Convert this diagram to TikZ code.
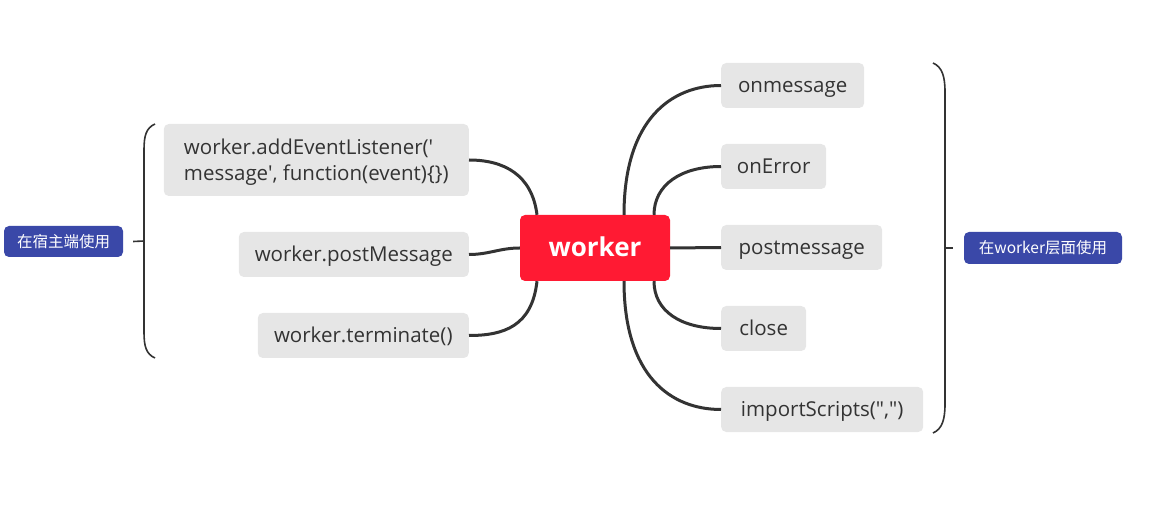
\documentclass[tikz,border=0pt]{standalone}
\usepackage{fontspec}
\newfontfamily\leaffont{Open Sans}
\newfontfamily\cjk{Noto Sans CJK SC}
\definecolor{hubred}{HTML}{FF1A33}
\definecolor{leafgray}{HTML}{E6E6E6}
\definecolor{tagblue}{HTML}{3A48A8}
\definecolor{linegray}{HTML}{333333}
\begin{document}
\begin{tikzpicture}[x=1pt,y=-1pt,
  hub/.style={fill=hubred,rounded corners=5pt,text=white,font=\leaffont\bfseries\fontsize{26}{30}\selectfont,minimum width=150pt,minimum height=66pt,inner sep=0pt,text height=22pt,text depth=4pt},
  leaf/.style={fill=leafgray,rounded corners=5pt,text=linegray,font=\leaffont\fontsize{20.5}{26}\selectfont,minimum height=45pt,inner sep=0pt,text height=19pt,text depth=4pt},
  leafr/.style={leaf,anchor=west},
  leafl/.style={leaf,anchor=east},
  tag/.style={fill=tagblue,rounded corners=5pt,text=white,font=\cjk\fontsize{15.5}{18}\selectfont,inner sep=0pt},
  conn/.style={draw=linegray,line width=3pt},
  brace/.style={draw=linegray,line width=1.6pt}]
\useasboundingbox (0,0) rectangle (1151,518);
\node[hub] (w) at (595,248) {worker};
% left leaves
\node[leafl,minimum width=305pt,minimum height=72pt,align=left,text height=46pt,text depth=4pt] (ael) at (469,160) {worker.addEventListener('\\message', function(event)\{\})};
\node[leafl,minimum width=230pt] (pm) at (469,254.5) {worker.postMessage};
\node[leafl,minimum width=211pt] (term) at (469,335.5) {worker.terminate()};
% right leaves
\node[leafr,minimum width=143pt] (om) at (721,85.5) {onmessage};
\node[leafr,minimum width=105pt] (oe) at (721,166.5) {onError};
\node[leafr,minimum width=161pt] (pms) at (721,247.5) {postmessage};
\node[leafr,minimum width=85pt] (cl) at (721,328.5) {close};
\node[leafr,minimum width=202pt] (imp) at (721,409.5) {importScripts(",")};
% tags
\node[tag,minimum width=119pt,minimum height=31pt] (lt) at (63.5,241.5) {在宿主端使用};
\node[tag,minimum width=158pt,minimum height=32pt] (rt) at (1043,248) {在worker层面使用};
% connectors right
\draw[conn] ([xshift=29pt]w.north) .. controls +(0,-95) and +(-50,0) .. (om.west);
\draw[conn] ([xshift=59pt]w.north) .. controls +(0,-30) and +(-40,0) .. (oe.west);
\draw[conn] (w.east) -- (pms.west);
\draw[conn] ([xshift=59pt]w.south) .. controls +(0,30) and +(-40,0) .. (cl.west);
\draw[conn] ([xshift=29pt]w.south) .. controls +(0,95) and +(-50,0) .. (imp.west);
% connectors left
\draw[conn] ([xshift=-58pt]w.north) .. controls +(-5,-40) and +(35,0) .. (ael.east);
\draw[conn] (w.west) .. controls +(-20,0) and +(20,0) .. (pm.east);
\draw[conn] ([xshift=-58pt]w.south) .. controls +(-5,45) and +(35,0) .. (term.east);
% left brace
\coordinate (lbt) at (155,124);
\coordinate (lbb) at (155,358);
\coordinate (lbm) at (144,241);
\draw[brace] (lbt) .. controls (146,128) and (144,136) .. (144,150) -- (144,332) .. controls (144,346) and (146,354) .. (lbb);
\draw[brace] ([xshift=10pt]lt.east) -- (lbm);
% right brace
\coordinate (rbt) at (933,63);
\coordinate (rbb) at (933,433);
\coordinate (rbm) at (945,248);
\draw[brace] (rbt) .. controls (942,67) and (945,76) .. (945,92) -- (945,404) .. controls (945,420) and (942,429) .. (rbb);
\draw[brace] (rbm) -- ([xshift=-11pt]rt.west);
\end{tikzpicture}
\end{document}
